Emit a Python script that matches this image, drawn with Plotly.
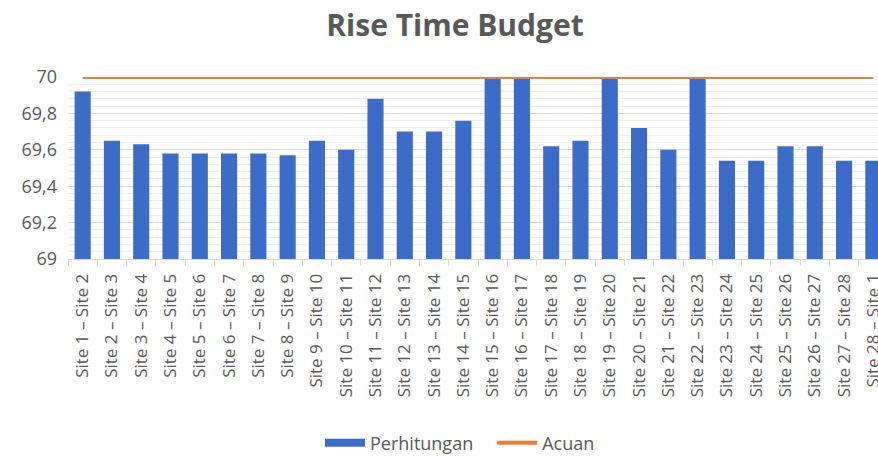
import plotly.graph_objects as go

categories = [f"Site {i} – Site {i+1}" for i in range(1, 28)] + ["Site 28 – Site 1"]
perhitungan = [69.92, 69.65, 69.63, 69.58, 69.58, 69.58, 69.58, 69.57, 69.65, 69.60,
               69.88, 69.70, 69.70, 69.76, 70.0, 70.0, 69.62, 69.65, 70.0, 69.72,
               69.60, 70.0, 69.54, 69.54, 69.62, 69.62, 69.54, 69.54]
acuan = [70.0] * len(categories)
y_ticks = [69, 69.2, 69.4, 69.6, 69.8, 70]
y_ticktext = ["69", "69,2", "69,4", "69,6", "69,8", "70"]

grey = "#595959"
blue = "#3B6CC7"
orange = "#ED7D31"
fig = go.Figure()
fig.add_trace(go.Bar(
    x=categories, y=perhitungan, name="Perhitungan", showlegend=False,
    legendgroup="p",
    marker=dict(color=blue, line=dict(width=0)), width=0.55,
))
# legend entry drawn as a wide rectangle like the reference
fig.add_trace(go.Scatter(
    x=[None], y=[None], name="Perhitungan\u00a0\u00a0\u00a0", mode="lines", legendgroup="p",
    line=dict(color=blue, width=8),
))
fig.add_trace(go.Scatter(
    x=categories, y=acuan, name="Acuan", mode="lines",
    line=dict(color=orange, width=4),
))

n = len(categories)
fig.update_layout(
    width=878, height=456,
    margin=dict(l=68, r=0, t=77, b=197, autoexpand=False),
    paper_bgcolor="white", plot_bgcolor="white",
    title=dict(text="<b>Rise Time Budget</b>", x=455 / 878, xanchor="center", xref="container",
               y=1 - 25 / 456, yref="container", yanchor="middle",
               font=dict(family="Open Sans", size=30, color=grey)),
    font=dict(family="Open Sans", color=grey),
    showlegend=True,
    legend=dict(orientation="h", x=460 / 878, xanchor="center", xref="container",
                y=(456 - 443) / 456, yref="container", yanchor="middle",
                font=dict(size=18, color=grey), itemwidth=40, tracegroupgap=0),
    bargap=0.45,
)
fig.update_yaxes(
    range=[69, 70], tickvals=y_ticks, ticktext=y_ticktext,
    tickfont=dict(size=18, color=grey), automargin=False,
    showgrid=True, gridcolor="#D9D9D9", gridwidth=1,
    minor=dict(dtick=0.04, showgrid=True, gridcolor="#EFEFEF", gridwidth=1),
    zeroline=False, showline=False, ticks="", ticklabelstandoff=10,
)
fig.update_xaxes(
    range=[-0.5, n - 0.5 - 10 / 29.3], automargin=False,
    tickangle=-90, tickfont=dict(size=17, color=grey),
    tickson="boundaries", ticks="outside", ticklen=6, tickcolor="#D9D9D9",
    showline=True, linecolor="#D9D9D9", linewidth=1,
    showgrid=False, ticklabelstandoff=7,
)
fig.write_html("out.html", config={"displayModeBar": False},
               post_script="document.body.style.margin='0';document.body.style.overflow='hidden';")
